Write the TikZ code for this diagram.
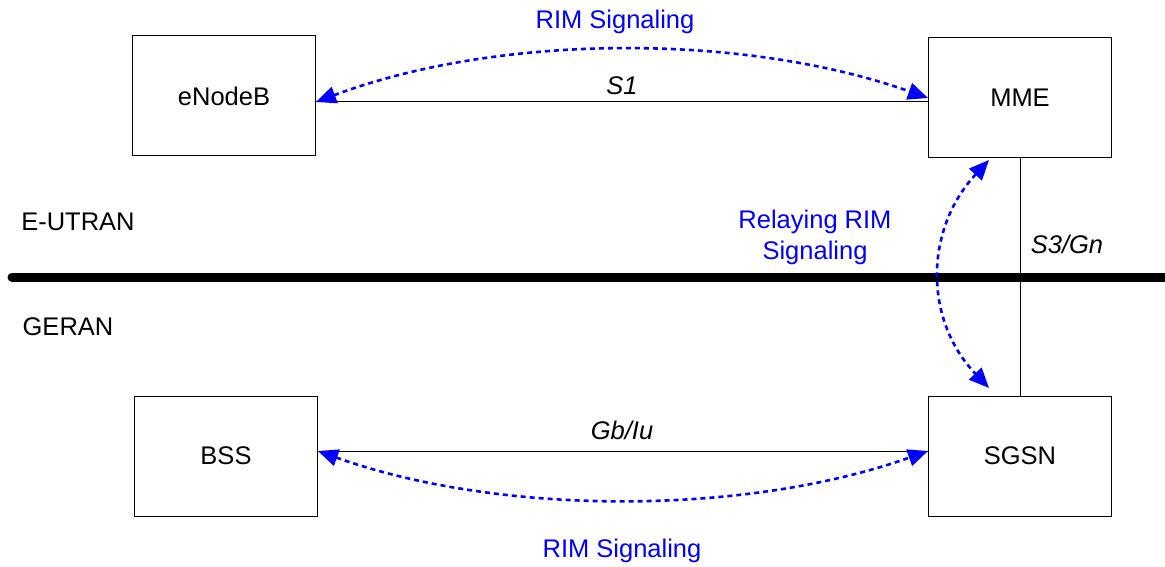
\documentclass[tikz,border=0pt]{standalone}
\usepackage{fontspec}
\setmainfont{Liberation Sans}
\usetikzlibrary{arrows.meta}
\begin{document}
\begin{tikzpicture}[x=1pt,y=-1pt,
  every node/.style={font=\fontsize{25.5}{31}\selectfont},
  netbox/.style={draw,line width=1pt,minimum width=183pt,minimum height=120pt,inner sep=0pt},
  iface/.style={line width=1pt},
  lbl/.style={font=\fontsize{25.5}{31}\selectfont\itshape},
  rim/.style={draw=blue,line width=2.6pt,dash pattern=on 5pt off 4pt,
    {Triangle[length=20pt,width=17pt]}-{Triangle[length=20pt,width=17pt]}},
  rimtext/.style={text=blue,align=center}]
\useasboundingbox (0,0) rectangle (1165,567);
\node[netbox] (enb) at (224,96) {eNodeB};
\node[netbox] (mme) at (1020,98) {MME};
\node[netbox] (bss) at (226,456) {BSS};
\node[netbox] (sgsn) at (1020,456) {SGSN};
\draw[iface] ([yshift=-6pt]enb.east) -- ([yshift=-4pt]mme.west);
\draw[iface] ([yshift=5pt]bss.east) -- ([yshift=5pt]sgsn.west);
\draw[iface] (mme.south) -- (sgsn.north);
\coordinate (bl) at (12,277);
\coordinate (br) at (1170,277);
\draw[line width=9pt,line cap=round] (bl) -- (br);
\node[lbl] (s1) at (622,86) {S1};
\node[lbl] (gb) at (622,430) {Gb/Iu};
\node[lbl] (s3) at (1067,244) {S3/Gn};
\node (eu) at (78,222) {E-UTRAN};
\node (ge) at (68,327) {GERAN};
\node[rimtext] (rim1) at (615,22) {RIM Signaling};
\node[rimtext] (rim2) at (622,551) {RIM Signaling};
\node[rimtext] (rim3) at (815,237) {Relaying RIM\\Signaling};
\coordinate (a1) at (316,102);
\coordinate (a2) at (928,98);
\coordinate (b1) at (318,451);
\coordinate (b2) at (928,451);
\coordinate (c1) at (989,160);
\coordinate (c2) at (989,388);
\draw[rim] (a1) .. controls (500,33) and (745,33) .. (a2);
\draw[rim] (b1) .. controls (500,516) and (745,516) .. (b2);
\draw[rim] (c1) .. controls (924,230) and (924,320) .. (c2);
\end{tikzpicture}
\end{document}
